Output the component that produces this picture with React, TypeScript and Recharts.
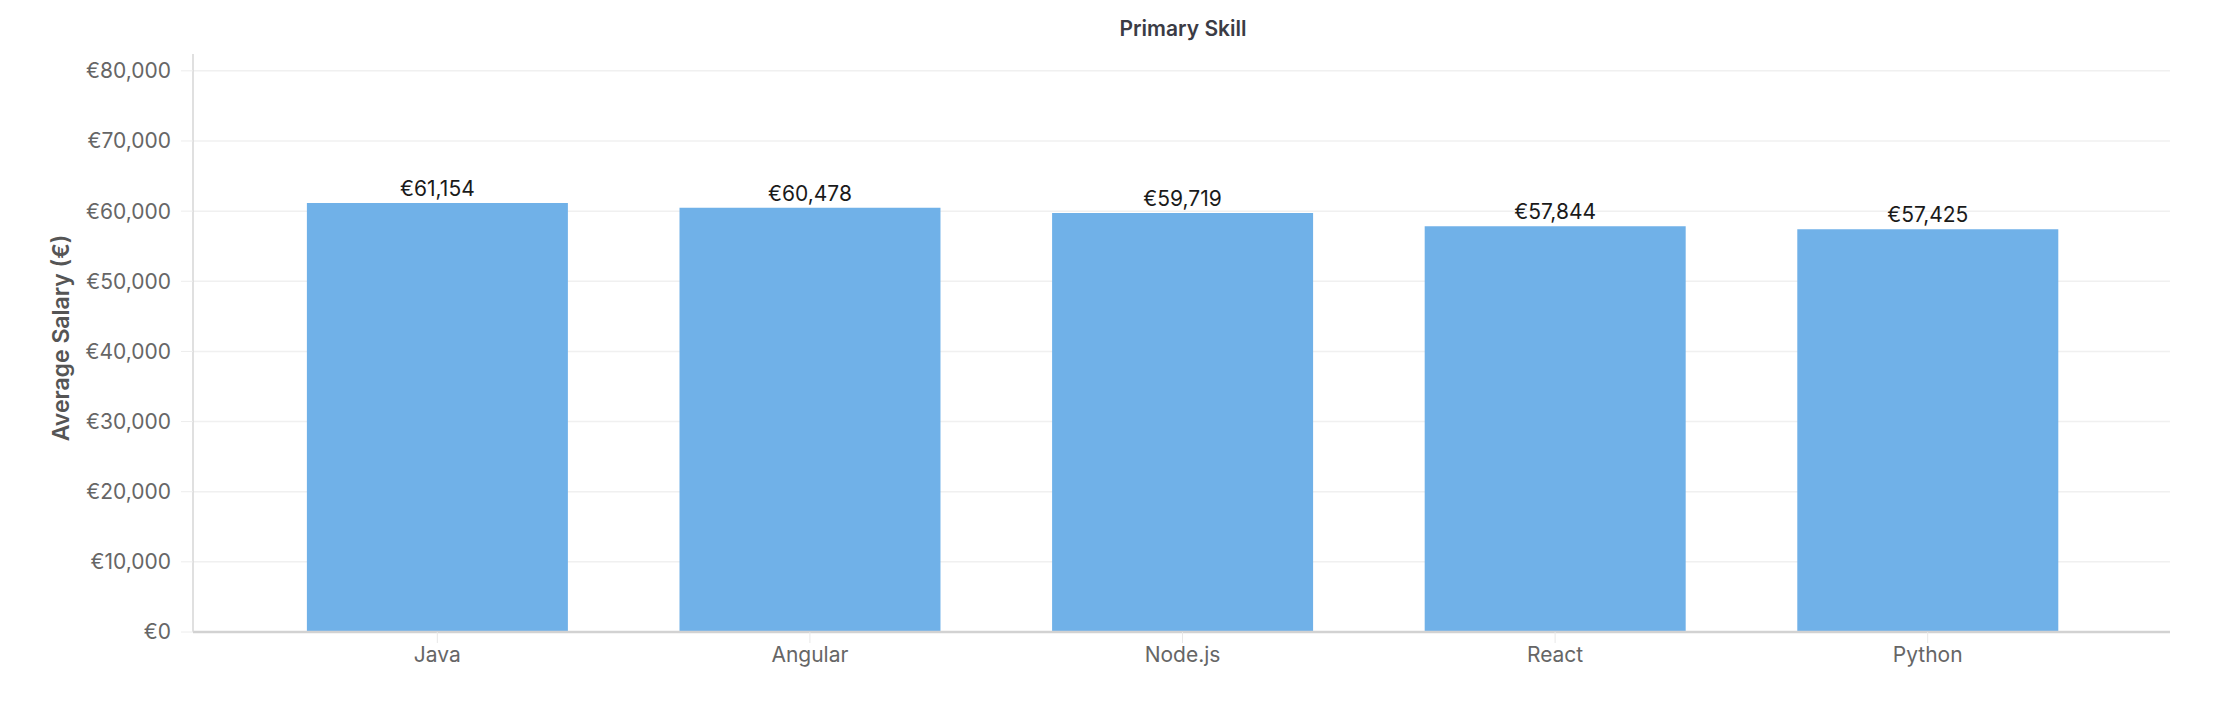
import React from 'react';
import {
  BarChart,
  Bar,
  XAxis,
  YAxis,
  CartesianGrid,
  LabelList,
  Label,
} from 'recharts';

const skills = ['Java', 'Angular', 'Node.js', 'React', 'Python'];
const avgSalary = [61154, 60478, 59719, 57844, 57425];
const yTicks = [0, 10000, 20000, 30000, 40000, 50000, 60000, 70000, 80000];

const chartData = skills.map((skill, i) => ({ skill, salary: avgSalary[i] }));

const FONT = 'Inter, "Noto Sans", sans-serif';

const euro = (v: number) => `€${Number(v).toLocaleString('en-US')}`;

function YTitle({ viewBox }: any) {
  const cx = 61;
  const cy = viewBox.y + viewBox.height / 2 - 5;
  return (
    <text
      x={cx}
      y={cy}
      transform={`rotate(-90, ${cx}, ${cy})`}
      textAnchor="middle"
      dominantBaseline="central"
      fill="#555"
      fontSize={23}
      fontWeight={600}
      fontFamily={FONT}
    >
      Average Salary (€)
    </text>
  );
}

export default function App() {
  return (
    <div
      style={{
        position: 'absolute',
        left: 0,
        top: 0,
        width: 2214,
        height: 726,
        background: '#fff',
        fontFamily: FONT,
      }}
    >
      <div
        style={{
          position: 'absolute',
          left: 1183,
          top: 16,
          transform: 'translateX(-50%)',
          fontSize: 21,
          lineHeight: '26px',
          fontWeight: 600,
          color: '#3b3b45',
          whiteSpace: 'nowrap',
        }}
      >
        Primary Skill
      </div>

      <BarChart
        width={2214}
        height={726}
        data={chartData}
        margin={{ top: 54, right: 44, bottom: 54, left: 0 }}
        barCategoryGap="15%"
      >
        <CartesianGrid
          stroke="#f0f0f0"
          strokeWidth={1.5}
          vertical={false}
          horizontalValues={yTicks}
        />

        <XAxis
          dataKey="skill"
          height={40}
          padding={{ left: 58, right: 56 }}
          axisLine={{ stroke: '#d2d2d2', strokeWidth: 2.5 }}
          tickLine={{ stroke: '#e8e8e8' }}
          tickSize={11}
          tickMargin={4}
          tick={{ fontSize: 21, fill: '#666', fontFamily: FONT }}
        />

        <YAxis
          width={193}
          domain={[0, 82400]}
          ticks={yTicks}
          allowDataOverflow
          axisLine={{ stroke: '#d6d6d6', strokeWidth: 1.5 }}
          tickLine={{ stroke: '#ececec' }}
          tickSize={12}
          tickMargin={10}
          tick={{ fontSize: 21, fill: '#666', fontFamily: FONT }}
          tickFormatter={euro}
        >
          <Label content={<YTitle />} />
        </YAxis>

        <Bar dataKey="salary" fill="#70b1e8" isAnimationActive={false}>
          <LabelList
            dataKey="salary"
            position="top"
            offset={7}
            formatter={(v: any) => euro(v)}
            fill="#1a1a1a"
            fontSize={21}
            fontFamily={FONT}
          />
        </Bar>
      </BarChart>
    </div>
  );
}
